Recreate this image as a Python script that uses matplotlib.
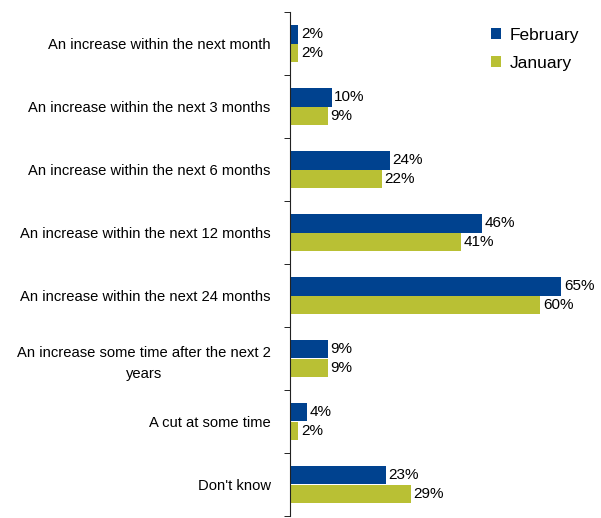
import numpy as np
import matplotlib.pyplot as plt

plt.rcParams['font.family'] = ['Liberation Sans', 'DejaVu Sans']

categories = [
    "An increase within the next month",
    "An increase within the next 3 months",
    "An increase within the next 6 months",
    "An increase within the next 12 months",
    "An increase within the next 24 months",
    "An increase some time after the next 2\nyears",
    "A cut at some time",
    "Don't know",
]
february = [2, 10, 24, 46, 65, 9, 4, 23]
january = [2, 9, 22, 41, 60, 9, 2, 29]

blue = "#00428F"
green = "#B9C034"

fig = plt.figure(figsize=(6.01, 5.18), dpi=100)
ax = fig.add_axes([290 / 601, 2 / 518, 311 / 601, 504 / 518])

y = np.arange(len(categories))
h = 0.3
ax.barh(y - h / 2, february, height=h, color=blue, label="February")
ax.barh(y + h / 2, january, height=h, color=green, label="January")

for yi, v in zip(y, february):
    ax.text(v + 0.6, yi - h / 2, f"{v}%", va="center", ha="left", fontsize=11)
for yi, v in zip(y, january):
    ax.text(v + 0.6, yi + h / 2, f"{v}%", va="center", ha="left", fontsize=11)

ax.set_xlim(0, 74.5)
ax.set_ylim(len(categories) - 0.5, -0.5)
ax.set_yticks(y)
ax.set_yticklabels(categories, fontsize=10.6, multialignment="center",
                   linespacing=1.6)
ax.tick_params(axis="y", which="major", length=0, pad=14)
ax.set_yticks(np.arange(-0.5, len(categories), 1), minor=True)
ax.tick_params(axis="y", which="minor", length=4, direction="out")
ax.set_xticks([])
for s in ["top", "right", "bottom"]:
    ax.spines[s].set_visible(False)
ax.spines["left"].set_color("#222222")

ax.legend(loc="upper right", bbox_to_anchor=(0.98, 1.0), frameon=False,
          fontsize=12.5, handlelength=0.6, handleheight=0.6, handletextpad=0.5,
          labelspacing=0.75)

fig.savefig("out.png", dpi=100)
